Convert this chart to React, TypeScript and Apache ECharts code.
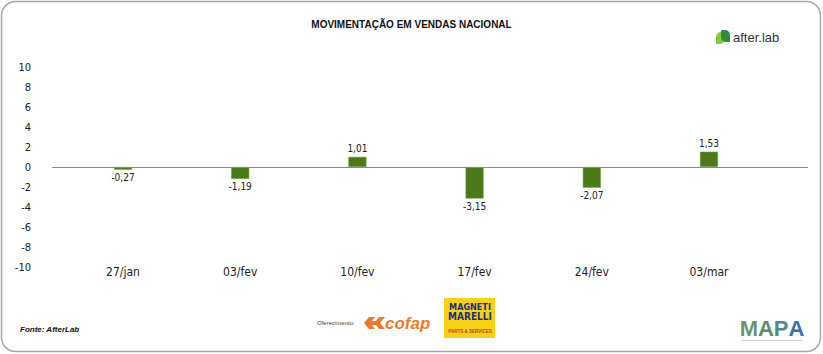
import React, { useEffect, useRef } from "react";
import * as echarts from "echarts";

const categories = ["27/jan", "03/fev", "10/fev", "17/fev", "24/fev", "03/mar"];
const values = [-0.27, -1.19, 1.01, -3.15, -2.07, 1.53];
const yTicks = [-10, -8, -6, -4, -2, 0, 2, 4, 6, 8, 10];

const TITLE = "MOVIMENTAÇÃO EM VENDAS NACIONAL";
const SOURCE = "Fonte: AfterLab";

const COND = "'Liberation Sans Narrow', 'DejaVu Sans Condensed', 'Liberation Sans', sans-serif";
const SANS = "'Liberation Sans', Arial, sans-serif";

export default function App() {
  const ref = useRef<HTMLDivElement>(null);
  useEffect(() => {
    if (!ref.current) return;
    const chart = echarts.init(ref.current, null, { renderer: "svg" });
    const fmt = (v: number) => v.toFixed(2).replace(".", ",");
    const mapaStyle = (c: string) => ({ fontSize: 22, fontWeight: 900, fill: c, fontFamily: SANS });
    chart.setOption({
      animation: false,
      backgroundColor: "#fff",
      title: {
        text: TITLE,
        left: "center",
        top: 14,
        textStyle: { fontSize: 10, fontWeight: "bold", color: "#111", fontFamily: SANS },
      },
      grid: { left: 52, right: 15, top: 67, bottom: 87, containLabel: false },
      xAxis: {
        type: "value",
        min: -0.606,
        max: 5.845,
        axisLine: { show: false },
        axisTick: { show: false },
        splitLine: { show: false },
        axisLabel: {
          customValues: categories.map((_, i) => i),
          formatter: (v: number) => categories[Math.round(v)] ?? "",
          fontSize: 12,
          color: "#222",
          margin: -1,
          fontFamily: COND,
        },
      },
      yAxis: {
        type: "value",
        min: -10,
        max: 10,
        interval: 2,
        axisLine: { show: false },
        axisTick: { show: false },
        splitLine: { show: false },
        axisLabel: {
          customValues: yTicks,
          fontSize: 11,
          color: "#222",
          margin: 21,
          fontFamily: COND,
        },
      },
      series: [
        {
          type: "bar",
          barWidth: 18,
          data: values.map((v, i) => [i, v]),
          itemStyle: { color: "#4b7a1b", borderColor: "#6f9a3a", borderWidth: 0.6 },
          label: {
            show: true,
            position: "outside",
            distance: 3,
            formatter: (p: any) => fmt(p.value[1]),
            fontSize: 10,
            color: "#222",
            fontFamily: COND,
          },
          markLine: {
            silent: true,
            symbol: ["none", "none"],
            label: { show: false },
            lineStyle: { color: "#8a8a8a", width: 1, type: "solid" },
            data: [{ yAxis: 0 }],
          },
        },
      ],
      graphic: [
        {
          type: "rect",
          shape: { x: 1.5, y: 1.5, width: 819, height: 350, r: 14 },
          style: { fill: "none", stroke: "#a8a8a8", lineWidth: 1.5 },
          silent: true,
        },
        // after.lab logo
        {
          type: "rect",
          shape: { x: 716, y: 32, width: 9, height: 12, r: [5, 1, 5, 1] },
          style: { fill: "#8cc63f" },
        },
        {
          type: "rect",
          shape: { x: 721, y: 30, width: 9, height: 12, r: [1, 5, 1, 5] },
          style: { fill: "#2f8a3a" },
        },
        {
          type: "text",
          x: 733,
          y: 37,
          style: { text: "after.lab", fontSize: 13, fill: "#333", fontFamily: SANS, verticalAlign: "middle" },
        },
        // source
        {
          type: "text",
          x: 20,
          y: 329,
          style: { text: SOURCE, fontSize: 8, fontStyle: "italic", fontWeight: "bold", fill: "#111", fontFamily: SANS, verticalAlign: "middle" },
        },
        // Oferecimento
        {
          type: "text",
          x: 317,
          y: 323,
          style: { text: "Oferecimento:", fontSize: 6, fill: "#444", fontFamily: SANS, verticalAlign: "middle" },
        },
        // cofap X icon
        {
          type: "polygon",
          shape: { points: [[364, 323], [369, 317], [375, 317], [372, 321], [376, 321], [379, 317], [385, 317], [380, 323], [385, 329], [379, 329], [376, 325], [372, 325], [375, 329], [369, 329]] },
          style: { fill: "#ec7a2d" },
        },
        {
          type: "text",
          x: 385,
          y: 323,
          style: { text: "cofap", fontSize: 17, fontStyle: "italic", fontWeight: 900, fill: "#ec7a2d", fontFamily: SANS, verticalAlign: "middle" },
        },
        // Magneti Marelli
        {
          type: "rect",
          shape: { x: 444, y: 298, width: 51, height: 40 },
          style: { fill: "#f7d117" },
        },
        {
          type: "text",
          x: 470,
          y: 307,
          style: { text: "MAGNETI", fontSize: 9, fontWeight: "bold", fill: "#1d2d7c", align: "center", verticalAlign: "middle", fontFamily: COND },
        },
        {
          type: "text",
          x: 470,
          y: 316,
          style: { text: "MARELLI", fontSize: 10, fontWeight: "bold", fill: "#1d2d7c", align: "center", verticalAlign: "middle", fontFamily: COND },
        },
        {
          type: "text",
          x: 470,
          y: 331,
          style: { text: "PARTS & SERVICES", fontSize: 4.5, fontWeight: "bold", fill: "#c8372d", align: "center", verticalAlign: "middle", fontFamily: SANS },
        },
        // MAPA
        {
          type: "text",
          x: 772,
          y: 328,
          style: {
            text: "{a|M}{b|A}{c|P}{d|A}",
            align: "center",
            verticalAlign: "middle",
            rich: {
              a: mapaStyle("#6f9270"),
              b: mapaStyle("#5e8f6c"),
              c: mapaStyle("#4f8a86"),
              d: mapaStyle("#3d6fb2"),
            },
          },
        },
        {
          type: "rect",
          shape: { x: 742, y: 340, width: 60, height: 1 },
          style: { fill: "#d0d0d0" },
        },
      ],
    });
    return () => chart.dispose();
  }, []);
  return <div ref={ref} style={{ position: "absolute", left: 0, top: 0, width: 823, height: 354 }} />;
}
